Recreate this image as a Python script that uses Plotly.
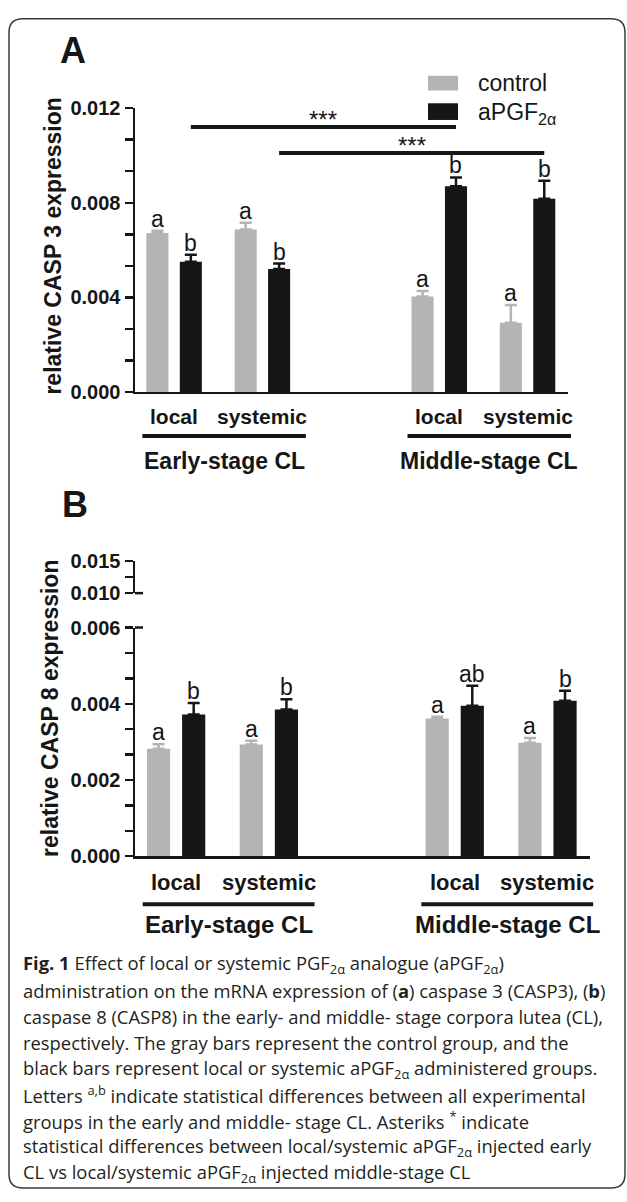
import plotly.graph_objects as go

# ---------------- data ----------------
routes = ["local", "systemic", "local", "systemic"]
stages = ["Early-stage CL", "Middle-stage CL"]

casp3_control = [0.00672, 0.00687, 0.00404, 0.00293]
casp3_control_err = [0.00010, 0.00028, 0.00023, 0.00075]
casp3_treated = [0.00550, 0.00520, 0.00870, 0.00817]
casp3_treated_err = [0.00030, 0.00023, 0.00037, 0.00076]
casp3_letters_control = ["a", "a", "a", "a"]
casp3_letters_treated = ["b", "b", "b", "b"]

casp8_control = [0.00282, 0.00293, 0.00361, 0.00298]
casp8_control_err = [0.00012, 0.00010, 0.00005, 0.00012]
casp8_treated = [0.00372, 0.00385, 0.00395, 0.00408]
casp8_treated_err = [0.00030, 0.00027, 0.00052, 0.00026]
casp8_letters_control = ["a", "a", "a", "a"]
casp8_letters_treated = ["b", "b", "ab", "b"]

casp3_ticks = [0.000, 0.004, 0.008, 0.012]
casp8_ticks_low = [0.000, 0.002, 0.004, 0.006]
casp8_ticks_high = [0.010, 0.015]
sig_levels = [0.0112, 0.0101]          # CASP3 comparison bar heights
sig_text = ["***", "***"]

# ---------------- layout helpers ----------------
W, H = 627, 1202
GRAY = "#b4b4b4"
BLACK = "#161616"
FONT = "Liberation Sans, Arial, Helvetica, sans-serif"
CAPF = "Open Sans, Lato, sans-serif"


def X(px):
    return px / W


def Y(py):
    return 1 - py / H


stage_start = [0.67, 8.6]
route_offset = [0.0, 2.64]
pair_x = [s + r for s in stage_start for r in route_offset]
ctrl_x = list(pair_x)
trt_x = [p + 1 for p in pair_x]
XR = [0, 12.95]
BW = 0.66

# pixel frames of the two panels (screen pixels)
A_left, A_right, A_bottom, A_top = 135, 568, 388, 99
B_left, B_right, B_bottom, B_top = 135, 590, 861, 628
B_brk_bottom, B_brk_top = 593, 560


def ax_px(xd, left, right):
    return left + (xd - XR[0]) / (XR[1] - XR[0]) * (right - left)


fig = go.Figure()


def add_bars(xa, ya, ctrl, cerr, trt, terr):
    fig.add_trace(go.Bar(
        x=ctrl_x, y=ctrl, width=BW, marker=dict(color=GRAY, line=dict(width=0)),
        error_y=dict(type="data", array=cerr, arrayminus=[0] * len(cerr), symmetric=False,
                     color=GRAY, thickness=2.5, width=6),
        xaxis=xa, yaxis=ya, showlegend=False, name="control"))
    fig.add_trace(go.Bar(
        x=trt_x, y=trt, width=BW, marker=dict(color=BLACK, line=dict(width=0)),
        error_y=dict(type="data", array=terr, arrayminus=[0] * len(terr), symmetric=False,
                     color=BLACK, thickness=2.5, width=6),
        xaxis=xa, yaxis=ya, showlegend=False, name="aPGF2α"))


add_bars("x", "y", casp3_control, casp3_control_err, casp3_treated, casp3_treated_err)
add_bars("x2", "y3", casp8_control, casp8_control_err, casp8_treated, casp8_treated_err)
fig.add_trace(go.Scatter(x=[None], y=[None], xaxis="x2", yaxis="y4", showlegend=False,
                         hoverinfo="skip"))

axis_common = dict(showline=True, linecolor=BLACK, linewidth=2.5, showgrid=False,
                   zeroline=False, fixedrange=True)
yaxis_common = dict(axis_common, ticks="outside", ticklen=8, tickwidth=2.5, tickcolor=BLACK,
                    tickformat=".3f",
                    tickfont=dict(family=FONT, size=20, color=BLACK, weight=700))

fig.update_layout(
    width=W, height=H, margin=dict(l=0, r=0, t=0, b=0),
    paper_bgcolor="white", plot_bgcolor="white", barmode="overlay",
    xaxis=dict(axis_common, domain=[X(A_left), X(A_right)], range=XR, anchor="y",
               showticklabels=False, ticks=""),
    yaxis=dict(yaxis_common, domain=[Y(A_bottom), Y(A_top)], range=[0, 0.012], anchor="x",
               tickvals=casp3_ticks,
               minor=dict(dtick=0.004 / 3, tick0=0, ticks="outside", ticklen=8, tickwidth=2.5,
                          tickcolor=BLACK)),
    xaxis2=dict(axis_common, domain=[X(B_left), X(B_right)], range=XR, anchor="y3",
                showticklabels=False, ticks=""),
    yaxis3=dict(yaxis_common, domain=[Y(B_bottom), Y(B_top)], range=[0, 0.006], anchor="x2",
                tickvals=casp8_ticks_low,
                minor=dict(dtick=0.002 / 3, tick0=0, ticks="outside", ticklen=8, tickwidth=2.5,
                           tickcolor=BLACK)),
    yaxis4=dict(yaxis_common, domain=[Y(B_brk_bottom), Y(B_brk_top)], range=[0.010, 0.015],
                anchor="x2", tickvals=casp8_ticks_high,
                minor=dict(tickvals=[0.0125], ticks="outside", ticklen=8, tickwidth=2.5,
                           tickcolor=BLACK)),
)

ann = []
shapes = []


def paper_text(px, py, text, size, weight=400, xanchor="center", yanchor="middle",
               family=FONT, color=BLACK, angle=0):
    ann.append(dict(x=X(px), y=Y(py), xref="paper", yref="paper", text=text, showarrow=False,
                    xanchor=xanchor, yanchor=yanchor, textangle=angle,
                    font=dict(family=family, size=size, color=color, weight=weight)))


def letter_labels(xa, ya, xs, vals, errs, labels):
    for xv, v, e, t in zip(xs, vals, errs, labels):
        ann.append(dict(x=xv, y=v + e, xref=xa, yref=ya, text=t, showarrow=False,
                        xanchor="center", yanchor="bottom", yshift=-3,
                        font=dict(family=FONT, size=23, color=BLACK)))


letter_labels("x", "y", ctrl_x, casp3_control, casp3_control_err, casp3_letters_control)
letter_labels("x", "y", trt_x, casp3_treated, casp3_treated_err, casp3_letters_treated)
letter_labels("x2", "y3", ctrl_x, casp8_control, casp8_control_err, casp8_letters_control)
letter_labels("x2", "y3", trt_x, casp8_treated, casp8_treated_err, casp8_letters_treated)

# significance brackets (treated early vs treated middle)
for (i, j), lvl, st in zip([(0, 2), (1, 3)], sig_levels, sig_text):
    shapes.append(dict(type="line", xref="x", yref="y", x0=trt_x[i], x1=trt_x[j], y0=lvl, y1=lvl,
                       line=dict(color=BLACK, width=4)))
    ann.append(dict(x=(trt_x[i] + trt_x[j]) / 2, y=lvl, xref="x", yref="y", text=st,
                    showarrow=False, xanchor="center", yanchor="bottom", yshift=-8,
                    font=dict(family=FONT, size=24, color=BLACK)))


def group_labels(left, right, cat_y, line_y, stage_y, cat_size, stage_size):
    for k, r in enumerate(routes):
        cx = ax_px(pair_x[k] + 0.5, left, right)
        paper_text(cx, cat_y, r, cat_size, weight=700)
    for s, name in enumerate(stages):
        x0 = ax_px(pair_x[2 * s] - 0.45, left, right)
        x1 = ax_px(pair_x[2 * s + 1] + 1 + 0.8, left, right)
        shapes.append(dict(type="line", xref="paper", yref="paper", x0=X(x0), x1=X(x1),
                           y0=Y(line_y), y1=Y(line_y), line=dict(color=BLACK, width=4)))
        paper_text((x0 + x1) / 2, stage_y, name, stage_size, weight=700)


group_labels(A_left, A_right, 413, 433, 458, 21, 23)
group_labels(B_left, B_right, 888, 910, 931, 22, 24)

# broken-axis end stubs on panel B
for py in [B_top, B_brk_bottom]:
    shapes.append(dict(type="line", xref="paper", yref="paper", x0=X(B_left), x1=X(B_left + 8),
                       y0=Y(py), y1=Y(py), line=dict(color=BLACK, width=2.5)))

# y-axis titles
paper_text(53, 240, "relative CASP 3 expression", 23, weight=700, angle=-90)
paper_text(50, 711, "relative CASP 8 expression", 23, weight=700, angle=-90)

# panel letters
paper_text(58, 40, "A", 36, weight=700, xanchor="left")
paper_text(60, 503, "B", 36, weight=700, xanchor="left")

# legend (drawn)
shapes.append(dict(type="rect", xref="paper", yref="paper", x0=X(428), x1=X(458), y0=Y(81),
                   y1=Y(66), fillcolor=GRAY, line=dict(width=0)))
shapes.append(dict(type="rect", xref="paper", yref="paper", x0=X(428), x1=X(458), y0=Y(111),
                   y1=Y(94), fillcolor=BLACK, line=dict(width=0)))
paper_text(476, 73, "control", 23, xanchor="left")
paper_text(476, 104, "aPGF<sub>2α</sub>", 23, xanchor="left")

# caption
caption_lines = [
    "<b>Fig. 1</b> Effect of local or systemic PGF<sub>2α</sub> analogue (aPGF<sub>2α</sub>)",
    "administration on the mRNA expression of (<b>a</b>) caspase 3 (CASP3), (<b>b</b>)",
    "caspase 8 (CASP8) in the early- and middle- stage corpora lutea (CL),",
    "respectively. The gray bars represent the control group, and the",
    "black bars represent local or systemic aPGF<sub>2α</sub> administered groups.",
    "Letters <sup>a,b</sup> indicate statistical differences between all experimental",
    "groups in the early and middle- stage CL. Asteriks <sup>*</sup> indicate",
    "statistical differences between local/systemic aPGF<sub>2α</sub> injected early",
    "CL vs local/systemic aPGF<sub>2α</sub> injected middle-stage CL",
]
for k, line in enumerate(caption_lines):
    paper_text(21, 971 + k * 26.6, line, 18.4, xanchor="left", family=CAPF, color="#231f20")

# rounded frame
x0, x1, y0, y1, r = 9, 625, 8, 1199, 14
path = (f"M {X(x0 + r)},{Y(y0)} L {X(x1 - r)},{Y(y0)} Q {X(x1)},{Y(y0)} {X(x1)},{Y(y0 + r)} "
        f"L {X(x1)},{Y(y1 - r)} Q {X(x1)},{Y(y1)} {X(x1 - r)},{Y(y1)} "
        f"L {X(x0 + r)},{Y(y1)} Q {X(x0)},{Y(y1)} {X(x0)},{Y(y1 - r)} "
        f"L {X(x0)},{Y(y0 + r)} Q {X(x0)},{Y(y0)} {X(x0 + r)},{Y(y0)} Z")
shapes.append(dict(type="path", xref="paper", yref="paper", path=path,
                   line=dict(color="#3a3a3a", width=1.5)))

fig.update_layout(annotations=ann, shapes=shapes)
fig.write_html("out.html", config={"displayModeBar": False, "staticPlot": True},
               post_script="document.body.style.margin='0px';"
                           "document.body.style.overflow='hidden';")
